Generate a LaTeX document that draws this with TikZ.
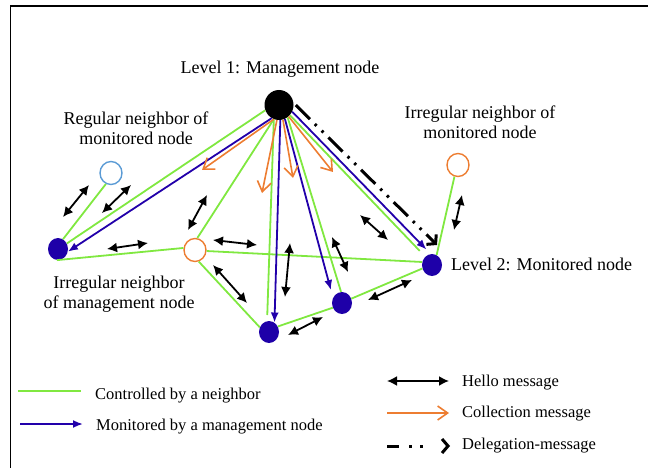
\documentclass[tikz,border=0pt]{standalone}
\usepackage{fontspec}
\setmainfont{Liberation Serif}
\usetikzlibrary{arrows.meta,shapes.geometric}
\definecolor{cgreen}{RGB}{128,232,64}
\definecolor{cblue}{RGB}{34,0,170}
\definecolor{cnode}{RGB}{30,0,168}
\definecolor{corange}{RGB}{237,125,49}
\definecolor{clblue}{RGB}{91,155,213}
\begin{document}
\begin{tikzpicture}[x=1pt,y=-1pt,
  mgmt/.style={ellipse, fill=black, minimum width=29pt, minimum height=30pt, inner sep=0pt},
  mon/.style={ellipse, fill=cnode, minimum width=20pt, minimum height=22pt, inner sep=0pt},
  nbr/.style={ellipse, draw=#1, line width=1.4pt, fill=white, minimum width=22pt, minimum height=23pt, inner sep=0pt},
  ctrl/.style={cgreen, line width=1.8pt},
  monit/.style={cblue, line width=1.8pt, -{Latex[length=10pt,width=8pt]}},
  coll/.style={corange, line width=1.6pt, -{Straight Barb[length=10pt,width=14pt]}},
  hello/.style={black, line width=1.8pt, {Latex[length=10pt,width=10pt]}-{Latex[length=10pt,width=10pt]}},
  deleg/.style={black, line width=3pt, dash pattern=on 20pt off 7pt on 2.5pt off 7pt on 2.5pt off 7pt, -{Straight Barb[length=6pt,width=14pt]}},
  lbl/.style={font=\fontsize{18}{20}\selectfont, align=center, inner sep=0pt},
  leg/.style={font=\fontsize{16.5}{19}\selectfont, anchor=base west, inner sep=0pt},
]
\useasboundingbox (0,0) rectangle (648,468);
\draw[line width=1.5pt] (10.5,468) -- (10.5,6) -- (648,6);

% nodes
\node[mgmt] (M) at (279,105) {};
\node[nbr=clblue] (RB) at (111,173) {};
\node[nbr=corange] (IR) at (458,165) {};
\node[nbr=corange] (IO) at (195,250) {};
\node[mon] (L) at (58,249) {};
\node[mon] (R) at (432,265) {};
\node[mon] (B1) at (269,332) {};
\node[mon] (B2) at (342,303) {};
\coordinate (dtip) at (437,245);

% controlled by a neighbor
\draw[ctrl] (RB.245) -- (L.63);
\draw[ctrl] (M.201) -- (L.32);
\draw[ctrl] (L.264) -- (IO.170);
\draw[ctrl] (IO.79) -- (M.250);
\draw[ctrl] (IO.-5) -- (R.163);
\draw[ctrl] (IO.288) -- (B1.153);
\draw[ctrl] (B1.32) -- (B2.207);
\draw[ctrl] (B2.25) -- (R.200);
\draw[ctrl, shorten >=6pt] (M.250) -- (B1.100);
\draw[ctrl] (M.305) -- (B2.95);
\draw[ctrl, shorten >=8pt] (M.317) -- (R.129);
\draw[ctrl] (R.65) -- (IR.253);

% monitored by management node
\draw[monit] (M.241) -- (L.-15);
\draw[monit] (M.275) -- (B1.60);
\draw[monit, shorten >=8pt] (M.293) -- (B2.150);
\draw[monit, shorten >=6pt] (M.333) -- (R.97);

% collection messages
\draw[coll] (M.250) -- (202,170);
\draw[coll] (M.262) -- (262,193);
\draw[coll] (M.285) -- (293,178);
\draw[coll] (M.310) -- (333,172);

% delegation
\draw[deleg, shorten <=3pt] (M.8) -- (dtip);

% hello messages
\foreach \a/\b in {{(63,217)}/{(89,185)}, {(102,213)}/{(131,185)}, {(107,249)}/{(148,243)},
  {(188,230)}/{(207,195)}, {(213,240)}/{(257,245)}, {(213,265)}/{(247,303)},
  {(285,297)}/{(290,243)}, {(332,237)}/{(348,272)}, {(360,215)}/{(388,240)},
  {(368,300)}/{(412,280)}, {(288,335)}/{(323,317)}, {(454,230)}/{(462,195)}}
  \draw[hello] \a -- \b;

% labels
\node[lbl, anchor=base] (t1) at (280,74) {Level 1: Management node};
\node[lbl, anchor=north] (t2) at (136,111.7) {Regular neighbor of\\monitored node};
\node[lbl, anchor=north] (t3) at (480,105.7) {Irregular neighbor of\\monitored node};
\node[lbl, anchor=north] (t4) at (119,275.7) {Irregular neighbor\\of management node};
\node[lbl, anchor=base west] (t5) at (451,270) {Level 2: Monitored node};

% legend
\draw[ctrl] (18,391) -- (81,391);
\node[leg] (g1) at (95,399) {Controlled by a neighbor};
\draw[monit] (20,424) -- (83,424);
\node[leg] (g2) at (96,430) {Monitored by a management node};
\draw[hello] (387,381) -- (449,381);
\node[leg] (g3) at (462,386) {Hello message};
\draw[coll] (387,413) -- (449,413);
\node[leg] (g4) at (462,417) {Collection message};
\draw[deleg, dash pattern=on 12pt off 10pt on 3pt off 8pt on 3pt off 40pt] (387,446) -- (450,446);
\node[leg] (g5) at (462,449) {Delegation-message};
\end{tikzpicture}
\end{document}
